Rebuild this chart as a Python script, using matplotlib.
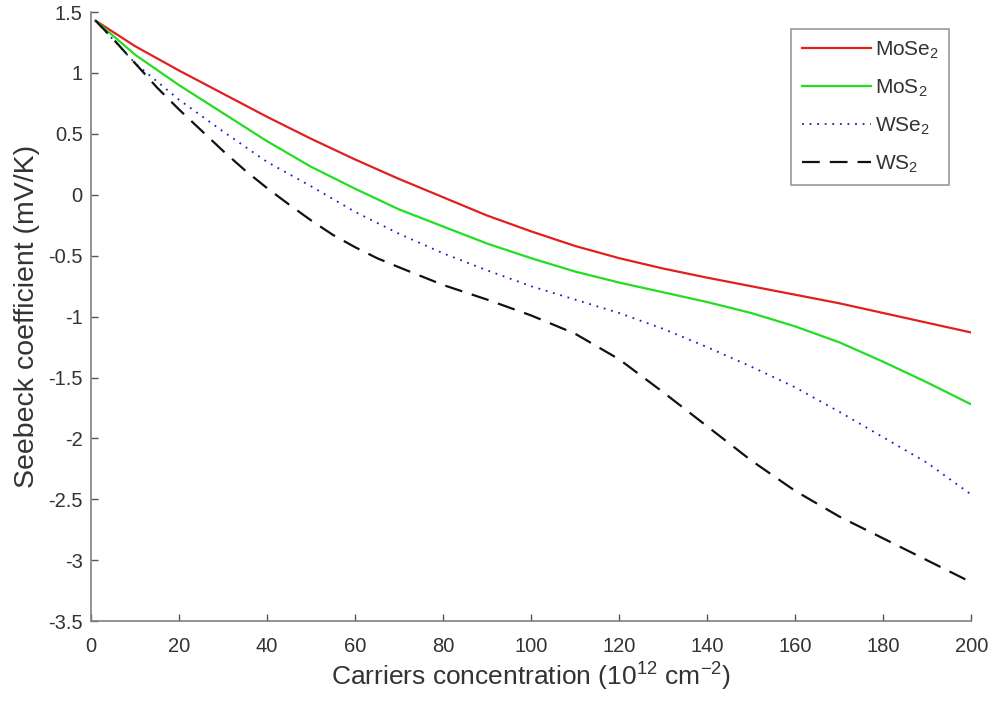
import matplotlib
matplotlib.use('Agg')
import matplotlib.pyplot as plt
from matplotlib.ticker import FuncFormatter

plt.rcParams['font.family'] = ['Liberation Sans', 'DejaVu Sans']
plt.rcParams['mathtext.default'] = 'regular'
plt.rcParams['axes.unicode_minus'] = False

# carrier concentration (1e12 cm^-2)
x_mose2 = [1, 10, 20, 30, 40, 50, 60, 70, 80, 90, 100, 110, 120, 130, 140,
           150, 160, 170, 180, 190, 200]
s_mose2 = [1.43, 1.22, 1.02, 0.83, 0.64, 0.46, 0.29, 0.13, -0.02, -0.17, -0.30,
           -0.42, -0.52, -0.605, -0.68, -0.75, -0.82, -0.89, -0.97, -1.05, -1.13]

x_mos2 = x_mose2
s_mos2 = [1.43, 1.15, 0.90, 0.67, 0.44, 0.23, 0.05, -0.12, -0.26, -0.40, -0.52,
          -0.63, -0.72, -0.80, -0.88, -0.97, -1.08, -1.21, -1.37, -1.54, -1.72]

x_wse2 = x_mose2
s_wse2 = [1.43, 1.08, 0.78, 0.52, 0.27, 0.07, -0.14, -0.32, -0.48, -0.62, -0.75,
          -0.86, -0.97, -1.10, -1.25, -1.41, -1.58, -1.78, -1.99, -2.20, -2.46]

x_ws2 = [1, 5, 10, 15, 20, 25, 30, 35, 40, 45, 50, 55, 60, 65, 70, 80, 90, 100,
         110, 120, 130, 140, 150, 160, 170, 180, 190, 200]
s_ws2 = [1.43, 1.28, 1.08, 0.88, 0.70, 0.53, 0.36, 0.20, 0.055, -0.08, -0.21,
         -0.33, -0.43, -0.52, -0.595, -0.74, -0.86, -0.99, -1.14, -1.35, -1.62,
         -1.90, -2.18, -2.43, -2.64, -2.82, -3.00, -3.18]

fig = plt.figure(figsize=(9.9, 7.1), dpi=100)
ax = fig.add_axes([0.092, 0.125, 0.889, 0.858])

ax.plot(x_mose2, s_mose2, color='#e02020', lw=1.6, label='MoSe$_2$')
ax.plot(x_mos2, s_mos2, color='#22dd22', lw=1.6, label='MoS$_2$')
ax.plot(x_wse2, s_wse2, color='#1a1acc', lw=1.3, dashes=(1, 3.2), label='WSe$_2$')
ax.plot(x_ws2, s_ws2, color='#111111', lw=1.6, dashes=(8, 4.5), label='WS$_2$')

ax.set_xlim(0, 200)
ax.set_ylim(-3.5, 1.5)
ax.set_xticks(range(0, 201, 20))
ax.set_yticks([1.5, 1, 0.5, 0, -0.5, -1, -1.5, -2, -2.5, -3, -3.5])
ax.yaxis.set_major_formatter(FuncFormatter(lambda v, p: '%g' % v))

for side in ['top', 'right']:
    ax.spines[side].set_visible(False)
for side in ['left', 'bottom']:
    ax.spines[side].set_color('#808080')
    ax.spines[side].set_linewidth(1.2)
ax.tick_params(direction='in', length=5, width=1, color='#555555',
               labelsize=14.5, labelcolor='#333333')
ax.tick_params(axis='x', pad=11)
ax.tick_params(axis='y', pad=6)

ax.set_xlabel('Carriers concentration (10$^{12}$ cm$^{-2}$)', fontsize=19,
              color='#333333', labelpad=4)
ax.set_ylabel('Seebeck coefficient (mV/K)', fontsize=20.5, color='#333333',
              labelpad=6)

leg = ax.legend(loc='upper right', bbox_to_anchor=(0.975, 0.972),
                borderaxespad=0, fontsize=15, labelspacing=0.8,
                handlelength=3.3, handletextpad=0.2, fancybox=False,
                borderpad=0.5)
leg.get_frame().set_edgecolor('#808080')
leg.get_frame().set_linewidth(1.2)
for t in leg.get_texts():
    t.set_color('#333333')

fig.savefig('out.png', dpi=100)
